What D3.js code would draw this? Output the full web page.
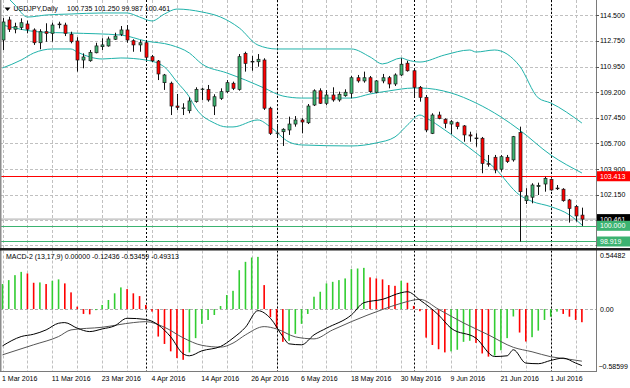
<!DOCTYPE html>
<html>
<head>
<meta charset="utf-8">
<script src="https://cdn.jsdelivr.net/npm/d3@7"></script>
<style>
  body { margin: 0; background: #fff; }
  svg text { font-family: "Liberation Sans", Arial, sans-serif; font-size: 7px; fill: #000; }
</style>
</head>
<body>
<script>
/* USDJPY daily bars, 1 Mar 2016 .. 8 Jul 2016 : [open, high, low, close] */
var ohlc = [
  [112.80,114.31,112.11,114.04],[114.18,114.40,113.35,113.54],[113.54,113.99,113.26,113.72],[113.67,114.29,113.49,113.99],
  [113.90,114.13,113.26,113.54],[113.49,113.60,112.46,112.61],[112.61,113.54,112.16,113.37],[113.37,113.95,112.68,113.26],
  [113.26,113.99,112.68,113.83],[113.85,114.06,113.60,113.90],[113.83,113.99,113.07,113.26],[113.19,113.37,112.57,112.68],
  [112.73,112.99,110.62,111.42],[111.42,111.88,110.85,111.63],[111.37,112.11,111.30,111.95],[111.92,112.61,111.88,112.39],
  [112.34,112.92,112.11,112.46],[112.39,113.03,112.34,112.87],[112.85,113.30,112.80,113.07],[113.19,113.76,113.07,113.49],
  [113.49,113.83,112.61,112.80],[112.75,112.85,111.99,112.46],[112.46,112.80,111.99,112.61],[112.61,112.80,111.42,111.61],
  [111.65,111.77,111.28,111.37],[111.35,111.42,110.04,110.46],[109.86,110.46,109.36,110.39],[109.82,109.93,107.63,108.25],
  [108.25,109.08,107.98,108.16],[108.07,108.44,107.63,108.12],[107.93,108.85,107.75,108.60],[108.55,109.54,108.48,109.40],
  [109.38,109.50,108.67,109.42],[109.40,109.70,108.55,108.67],[108.25,109.06,107.63,108.89],[108.78,109.47,108.67,109.24],
  [109.24,110.04,109.13,109.86],[109.82,109.93,109.35,109.47],[109.40,111.83,109.31,111.65],[111.88,111.99,110.62,111.19],
  [111.28,111.70,110.68,111.33],[111.30,111.83,110.96,111.47],[111.42,111.54,107.98,108.10],[108.10,108.20,106.26,106.37],
  [106.35,106.94,106.14,106.39],[106.48,106.72,105.50,106.65],[106.60,107.52,106.26,107.01],[107.01,107.56,106.83,107.29],
  [107.29,107.41,106.37,107.15],[107.10,108.39,107.01,108.25],[108.32,109.40,108.25,109.30],[109.30,109.47,108.39,108.44],
  [108.44,109.35,108.32,109.01],[109.01,109.54,108.55,108.67],[108.67,109.24,108.55,109.06],[108.96,109.40,108.89,109.20],
  [109.13,110.32,108.78,110.20],[110.20,110.39,109.86,109.98],[109.98,110.62,109.86,110.20],[110.20,110.32,109.17,109.24],
  [109.20,110.04,109.13,109.98],[109.98,110.46,109.82,110.20],[110.20,110.32,109.47,109.77],[109.77,110.50,109.63,110.39],
  [110.39,111.54,110.32,111.13],[111.20,111.37,110.62,110.68],[110.68,110.87,108.87,109.54],[109.54,109.63,108.55,108.85],
  [108.85,109.01,106.46,106.60],[106.37,107.75,106.32,107.63],[107.63,107.86,107.34,107.40],[107.34,107.40,106.72,107.06],
  [107.01,107.29,106.32,107.17],[107.10,107.17,106.65,106.83],[106.88,106.94,105.79,106.26],[106.26,106.48,105.79,106.19],
  [106.05,106.37,105.45,106.00],[106.03,106.12,103.62,104.30],[104.28,104.88,104.07,104.24],[104.72,104.88,103.62,103.85],
  [103.90,104.88,103.73,104.76],[104.72,104.88,104.33,104.42],[104.54,106.19,104.42,106.14],[106.42,106.83,98.91,102.35],
  [101.73,102.59,101.50,102.06],[101.97,102.93,101.55,102.81],[102.70,102.97,102.12,102.77],[102.88,103.38,102.35,103.27],
  [103.20,103.27,102.42,102.47],[102.60,102.81,102.47,102.55],[102.52,102.59,101.66,101.73],[101.78,101.85,100.22,101.20],
  [101.32,101.44,100.29,100.68],[100.735,101.25,99.987,100.461]
];

/* Bollinger bands: [bar, price] */
var bbUpper = [[0,116.1],[2,115.21],[4,114.38],[7,114.52],[11,114.59],[16,114.66],[20,114.66],[22,114.38],[24,114.11],
  [26,114.59],[28,114.93],[32,114.73],[35,114.38],[38,113.63],[41,112.45],[44,112.18],[48,112.18],[56,112.18],[59,111.63],
  [61,111.15],[64,111.56],[65,111.42],[67,111.28],[71,111.77],[75,112.11],[76,111.97],[79,112.11],[83,111.01],[86,108.81],
  [88,108.46],[93,107.08]];
var bbMiddle = [[0,113.83],[6,113.35],[11,113.28],[19,113.14],[23,112.73],[27,112.45],[30,111.90],[32,111.15],[36,110.53],
  [39,110.04],[42,109.49],[45,108.94],[48,108.80],[56,108.80],[59,109.08],[62,109.29],[66,109.49],[67,109.49],[72,109.15],
  [76,108.46],[80,107.50],[83,106.60],[88,104.88],[93,103.64]];
var bbLower = [[0,110.87],[3,111.42],[5,111.90],[8,112.18],[11,112.18],[12,111.97],[14,111.63],[16,111.49],[19,111.56],
  [23,111.42],[26,110.94],[28,109.91],[30,108.87],[31,108.12],[34,107.08],[36,106.81],[37,106.81],[41,107.29],[43,106.81],
  [46,105.77],[48,105.57],[56,105.50],[60,105.71],[63,106.12],[65,106.94],[67,107.63],[68,107.43],[71,106.60],[76,105.02],
  [79,103.98],[83,102.12],[85,101.68],[88,101.32],[91,100.75],[93,100.06]];

/* MACD-2 histogram, one value per bar */
var macdHist = [0.237,0.274,0.321,0.352,0.337,0.249,0.252,0.237,0.268,0.281,0.243,0.158,0.023,-0.046,-0.05,-0.01,
  0.039,0.086,0.149,0.205,0.189,0.149,0.123,0.039,-0.024,-0.26,-0.33,-0.40,-0.464,-0.48,-0.41,-0.275,-0.14,-0.103,
  -0.056,0.029,0.133,0.173,0.368,0.447,0.488,0.494,0.227,-0.077,-0.18,-0.31,-0.30,-0.235,-0.14,-0.046,0.117,0.164,
  0.243,0.258,0.274,0.29,0.378,0.384,0.39,0.30,0.29,0.281,0.227,0.22,0.268,0.249,0.03,-0.02,-0.27,-0.34,-0.38,-0.41,
  -0.40,-0.385,-0.31,-0.30,-0.32,-0.42,-0.45,-0.44,-0.39,-0.275,-0.07,-0.222,-0.307,-0.266,-0.204,-0.103,-0.072,
  -0.024,-0.046,-0.072,-0.103,-0.12436];
/* MACD and signal lines: [bar, value] */
var macdLine = [[0,-0.348],[3,-0.26],[5,-0.238],[7,-0.197],[9,-0.134],[10,-0.128],[12,-0.181],[14,-0.213],[16,-0.188],
  [18,-0.159],[20,-0.087],[23,-0.098],[25,-0.15],[27,-0.263],[29,-0.423],[30,-0.442],[32,-0.395],[35,-0.354],[37,-0.275],
  [39,-0.172],[41,-0.015],[43,-0.087],[45,-0.26],[46,-0.329],[48,-0.338],[50,-0.244],[52,-0.181],[56,-0.056],[58,0.06],
  [61,0.092],[64,0.155],[65,0.164],[67,0.086],[70,-0.056],[72,-0.181],[76,-0.275],[79,-0.449],[81,-0.442],[82,-0.385],
  [84,-0.511],[86,-0.517],[88,-0.486],[90,-0.464],[92,-0.511],[93,-0.53459]];
var signalLine = [[0,-0.433],[5,-0.338],[9,-0.26],[11,-0.197],[16,-0.172],[21,-0.128],[23,-0.119],[26,-0.172],[29,-0.272],
  [32,-0.343],[35,-0.36],[37,-0.322],[39,-0.244],[42,-0.166],[44,-0.188],[47,-0.263],[50,-0.282],[53,-0.197],[56,-0.119],
  [61,-0.004],[64,0.055],[67,0.092],[70,-0.002],[74,-0.131],[78,-0.244],[82,-0.362],[85,-0.404],[88,-0.451],[91,-0.475],
  [93,-0.49313]];

/* axes */
var priceTicks = [114.5,112.75,110.95,109.2,107.45,105.7,103.9,102.15,100.4,98.65];
var macdRange = [-0.58599, 0.54482];
var timeLabels = [[0,"1 Mar 2016"],[8,"11 Mar 2016"],[16,"23 Mar 2016"],[24,"4 Apr 2016"],[32,"14 Apr 2016"],
  [40,"26 Apr 2016"],[48,"6 May 2016"],[56,"18 May 2016"],[64,"30 May 2016"],[72,"9 Jun 2016"],[80,"21 Jun 2016"],
  [88,"1 Jul 2016"]];
var monthStarts = [23,44,66,88];

/* horizontal levels */
var resistance = 103.413;
var supports = [100.000, 98.919];
var bid = 100.461;

var symbol = "USDJPY,Daily";
var macdTitle = "MACD-2 (13,17,9) 0.00000 -0.12436 -0.53459 -0.49313";

(function() {
  var W = 630, H = 388, plotR = 596,
      mainTop = 0, mainBot = 248, subTop = 250.5, subBot = 371.5;

  var x = d3.scaleLinear().domain([0, ohlc.length - 1]).range([2.5, 2.5 + (ohlc.length - 1) * 6.23]),
      y = d3.scaleLinear().domain([100, 114.5]).range([225.8, 15.3]),
      ym = d3.scaleLinear().domain(macdRange).range([371, 251.5]);

  var fmt3 = d3.format(".3f");
  var green = "#3cb371", red = "#ff0000", band = "#20b2aa";

  var svg = d3.select("body").append("svg")
      .attr("width", W).attr("height", H)
      .style("display", "block");

  svg.append("rect").attr("width", W).attr("height", H).attr("fill", "#fff");

  var defs = svg.append("defs");
  defs.append("clipPath").attr("id", "clipMain")
    .append("rect").attr("x", 0).attr("y", mainTop).attr("width", plotR).attr("height", mainBot - mainTop);
  defs.append("clipPath").attr("id", "clipSub")
    .append("rect").attr("x", 0).attr("y", subTop).attr("width", plotR).attr("height", subBot - subTop);
  // price labels live above the window separator
  defs.append("clipPath").attr("id", "clipAxis")
    .append("rect").attr("x", plotR).attr("y", 0).attr("width", W - plotR).attr("height", mainBot);

  var main = svg.append("g").attr("clip-path", "url(#clipMain)"),
      sub = svg.append("g").attr("clip-path", "url(#clipSub)");

  // grid
  var gridBars = d3.range(0, ohlc.length, 4);
  [main, sub].forEach(function(g, k) {
    g.selectAll(".vgrid").data(gridBars).join("line")
      .attr("class", "vgrid")
      .attr("x1", function(d) { return Math.round(x(d)) + 0.5; })
      .attr("x2", function(d) { return Math.round(x(d)) + 0.5; })
      .attr("y1", k ? subTop : mainTop).attr("y2", k ? subBot : mainBot)
      .attr("stroke", "#c0c0c0").attr("stroke-dasharray", "3,2");
  });
  main.selectAll(".hgrid").data(priceTicks).join("line")
    .attr("x1", 0).attr("x2", plotR)
    .attr("y1", function(d) { return Math.round(y(d)) + 0.5; })
    .attr("y2", function(d) { return Math.round(y(d)) + 0.5; })
    .attr("stroke", "#c0c0c0").attr("stroke-dasharray", "3,2");
  sub.append("line")
    .attr("x1", 0).attr("x2", plotR)
    .attr("y1", Math.round(ym(0)) + 0.5).attr("y2", Math.round(ym(0)) + 0.5)
    .attr("stroke", "#b0b0b0").attr("stroke-dasharray", "3,2");

  // month separators
  [main, sub].forEach(function(g, k) {
    g.selectAll(".sep").data(monthStarts).join("line")
      .attr("class", "sep")
      .attr("x1", function(d) { return Math.round(x(d)) + 0.5; })
      .attr("x2", function(d) { return Math.round(x(d)) + 0.5; })
      .attr("y1", k ? subTop : mainTop).attr("y2", k ? subBot : mainBot)
      .attr("stroke", "#000").attr("stroke-dasharray", "2,2");
  });

  // horizontal levels
  main.append("line").attr("x1", 0).attr("x2", plotR)
    .attr("y1", y(bid)).attr("y2", y(bid)).attr("stroke", "#a9a9a9");
  main.append("line").attr("x1", 0).attr("x2", plotR)
    .attr("y1", Math.round(y(resistance)) + 0.5).attr("y2", Math.round(y(resistance)) + 0.5)
    .attr("stroke", red);
  main.selectAll(".sup").data(supports).join("line")
    .attr("x1", 0).attr("x2", plotR)
    .attr("y1", function(d) { return Math.round(y(d)) + 0.5; })
    .attr("y2", function(d) { return Math.round(y(d)) + 0.5; })
    .attr("stroke", green);

  // bollinger bands
  var bandLine = d3.line()
    .x(function(d) { return x(d[0]); })
    .y(function(d) { return y(d[1]); })
    .curve(d3.curveMonotoneX);
  [bbUpper, bbMiddle, bbLower].forEach(function(b) {
    main.append("path").datum(b).attr("d", bandLine)
      .attr("fill", "none").attr("stroke", band).attr("stroke-width", 1);
  });

  // candles
  var candle = main.selectAll(".candle").data(ohlc).join("g").attr("class", "candle");
  candle.append("line")
    .attr("x1", function(d, i) { return Math.round(x(i)) + 0.5; })
    .attr("x2", function(d, i) { return Math.round(x(i)) + 0.5; })
    .attr("y1", function(d) { return y(d[1]); })
    .attr("y2", function(d) { return y(d[2]); })
    .attr("stroke", "#111");
  candle.append("rect")
    .attr("x", function(d, i) { return Math.round(x(i)) - 1; })
    .attr("width", 3)
    .attr("y", function(d) { return y(Math.max(d[0], d[3])); })
    .attr("height", function(d) { return Math.max(0.6, Math.abs(y(d[0]) - y(d[3]))); })
    .attr("fill", function(d) { return d[3] >= d[0] ? green : red; })
    .attr("stroke", "#1a1a1a").attr("stroke-width", 0.7);

  // macd histogram
  sub.selectAll(".hist").data(macdHist).join("rect")
    .attr("class", "hist")
    .attr("x", function(d, i) { return x(i) - 0.8; })
    .attr("width", 1.6)
    .attr("y", function(d) { return Math.min(ym(d), ym(0)); })
    .attr("height", function(d) { return Math.abs(ym(d) - ym(0)); })
    .attr("fill", function(d, i) { return (i === 0 || d >= macdHist[i - 1]) ? "#32cd32" : "#ff0000"; });

  var mLine = d3.line()
    .x(function(d) { return x(d[0]); })
    .y(function(d) { return ym(d[1]); })
    .curve(d3.curveMonotoneX);
  sub.append("path").datum(signalLine).attr("d", mLine)
    .attr("fill", "none").attr("stroke", "#555").attr("stroke-width", 1);
  sub.append("path").datum(macdLine).attr("d", mLine)
    .attr("fill", "none").attr("stroke", "#000").attr("stroke-width", 1);

  // frame
  svg.append("rect").attr("x", 0).attr("y", 0).attr("width", 1.5).attr("height", subBot).attr("fill", "#8c8c8c");
  svg.append("line").attr("x1", plotR + 0.5).attr("x2", plotR + 0.5).attr("y1", 0).attr("y2", subBot)
    .attr("stroke", "#7a7a7a");
  svg.append("line").attr("x1", 0).attr("x2", plotR + 1).attr("y1", subBot).attr("y2", subBot)
    .attr("stroke", "#7a7a7a");

  // price axis labels (the ones under a level tag are covered, as on the terminal)
  var axis = svg.append("g");
  var priceAxis = axis.append("g").attr("clip-path", "url(#clipAxis)");
  var tagged = [bid].concat(supports);
  var freeTicks = priceTicks.filter(function(t) {
    return tagged.every(function(v) { return Math.abs(y(v) - y(t)) > 10; });
  });
  priceAxis.selectAll(".pt").data(freeTicks).join("text")
    .attr("x", 600).attr("y", function(d) { return y(d); }).attr("dy", "0.35em")
    .text(function(d) { return fmt3(d); });
  axis.selectAll(".ptk").data(priceTicks).join("line")
    .attr("x1", plotR).attr("x2", plotR + 3)
    .attr("y1", function(d) { return Math.round(y(d)) + 0.5; })
    .attr("y2", function(d) { return Math.round(y(d)) + 0.5; })
    .attr("stroke", "#555");

  // level tags on the price axis
  function tag(v, fill) {
    axis.append("rect").attr("x", plotR + 1).attr("y", y(v) - 5).attr("width", W - plotR - 1).attr("height", 10)
      .attr("fill", fill);
    axis.append("text").attr("x", 600).attr("y", y(v)).attr("dy", "0.35em")
      .style("fill", "#fff").text(fmt3(v));
  }
  tag(resistance, red);
  tag(bid, "#000");
  supports.forEach(function(s) { tag(s, green); });

  // window separator
  svg.append("rect").attr("x", 0).attr("y", mainBot).attr("width", W).attr("height", 2.5).attr("fill", "#1e1e1e");

  // macd axis labels
  var macdTicks = [macdRange[1], 0, macdRange[0]];
  axis.selectAll(".mt").data(macdTicks).join("text")
    .attr("x", function(d) { return d < 0 ? 598.5 : 600; })
    .attr("y", function(d, i) { return i === 0 ? ym(d) + 4 : (i === 2 ? ym(d) - 4 : ym(d)); })
    .attr("dy", "0.35em")
    .text(function(d) { return d === 0 ? "0.00" : d3.format(".5f")(d); });

  // time axis
  axis.selectAll(".tl").data(timeLabels).join("text")
    .attr("x", function(d) { return x(d[0]) - 0.5; })
    .attr("y", 381)
    .text(function(d) { return d[1]; });

  // titles
  svg.append("path").attr("d", "M4.5,7.5 L10.5,7.5 L7.5,11 Z").attr("fill", "#000");
  svg.append("text").attr("x", 13.5).attr("y", 11).text(symbol);
  svg.append("text").attr("x", 67).attr("y", 11)
    .text([ohlc[ohlc.length - 1][0], ohlc[ohlc.length - 1][1], ohlc[ohlc.length - 1][2], ohlc[ohlc.length - 1][3]]
      .map(fmt3).join(" "));
  svg.append("text").attr("x", 6).attr("y", 258.5).text(macdTitle);
})();
</script>
</body>
</html>
